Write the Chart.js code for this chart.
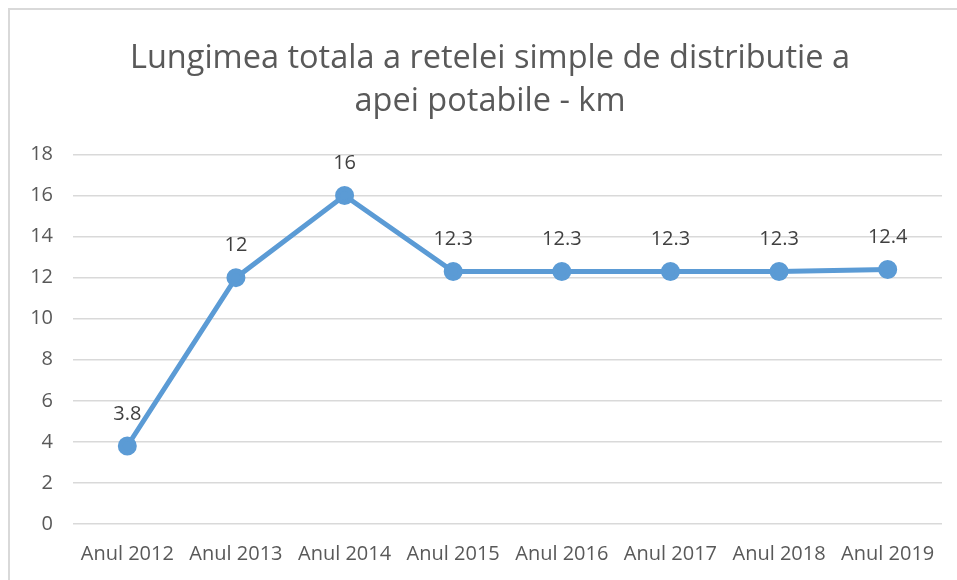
<!DOCTYPE html>
<html>
<head>
<meta charset="utf-8">
<script src="https://cdn.jsdelivr.net/npm/chart.js@4"></script>
<style>
  html, body { margin: 0; padding: 0; background: #fff; }
  #wrap { position: relative; width: 957px; height: 580px; overflow: hidden; }
  #frame { position: absolute; left: 8px; top: 8px; width: 1000px; height: 700px;
           border-left: 2px solid #d9d9d9; border-top: 2px solid #d9d9d9; box-sizing: border-box; }
  canvas { position: absolute; left: 0; top: 0; }
</style>
</head>
<body>
<div id="wrap">
  <div id="frame"></div>
  <canvas id="chart" width="957" height="580"></canvas>
</div>
<script>
// chart data
const years = ["Anul 2012", "Anul 2013", "Anul 2014", "Anul 2015", "Anul 2016", "Anul 2017", "Anul 2018", "Anul 2019"];
const lengthKm = [3.8, 12, 16, 12.3, 12.3, 12.3, 12.3, 12.4];
const titleLines = ["Lungimea totala a retelei simple de distributie a", "apei potabile - km"];
const yMin = 0, yMax = 18, yStep = 2;

const FONT = "'Open Sans', sans-serif";

// draw value labels above each point
const valueLabels = {
  id: "valueLabels",
  afterDatasetsDraw(chart) {
    const ctx = chart.ctx;
    const meta = chart.getDatasetMeta(0);
    ctx.save();
    ctx.font = "20px " + FONT;
    ctx.fillStyle = "#404040";
    ctx.textAlign = "center";
    ctx.textBaseline = "middle";
    meta.data.forEach((pt, i) => {
      ctx.fillText(String(lengthKm[i]), pt.x, pt.y - 32);
    });
    ctx.restore();
  }
};

new Chart(document.getElementById("chart"), {
  type: "line",
  data: {
    labels: years,
    datasets: [{
      data: lengthKm,
      borderColor: "#5b9bd5",
      backgroundColor: "#5b9bd5",
      borderWidth: 5,
      pointRadius: 7,
      pointHoverRadius: 7,
      tension: 0
    }]
  },
  options: {
    responsive: false,
    animation: false,
    // title is centred on the framed box, which runs past the right edge
    layout: { padding: { left: 15, right: -8, top: 0, bottom: 0 } },
    plugins: {
      legend: { display: false },
      tooltip: { enabled: false },
      title: {
        display: true,
        text: titleLines,
        color: "#595959",
        font: { family: FONT, size: 32.5, weight: "normal", lineHeight: 1.33 },
        padding: { top: 37, bottom: 31 }
      }
    },
    scales: {
      x: {
        offset: true,
        grid: { display: false, drawTicks: false },
        border: { display: false },
        ticks: { color: "#595959", font: { family: FONT, size: 20 }, padding: 18, maxRotation: 0, autoSkip: false },
        afterFit(s) { s.height = 56; }
      },
      y: {
        min: yMin,
        max: yMax,
        grid: { color: "#d9d9d9", lineWidth: 1.5, drawTicks: false },
        border: { display: false },
        ticks: { stepSize: yStep, color: "#595959", font: { family: FONT, size: 20 }, padding: 20 },
        afterFit(s) { s.width = 58; }
      },
      // empty spacer on the right so the plot ends where it does in the original
      spacer: {
        type: "linear",
        position: "right",
        grid: { display: false, drawTicks: false },
        border: { display: false },
        ticks: { display: false },
        afterFit(s) { s.width = 23; }
      }
    }
  },
  plugins: [valueLabels]
});
</script>
</body>
</html>
